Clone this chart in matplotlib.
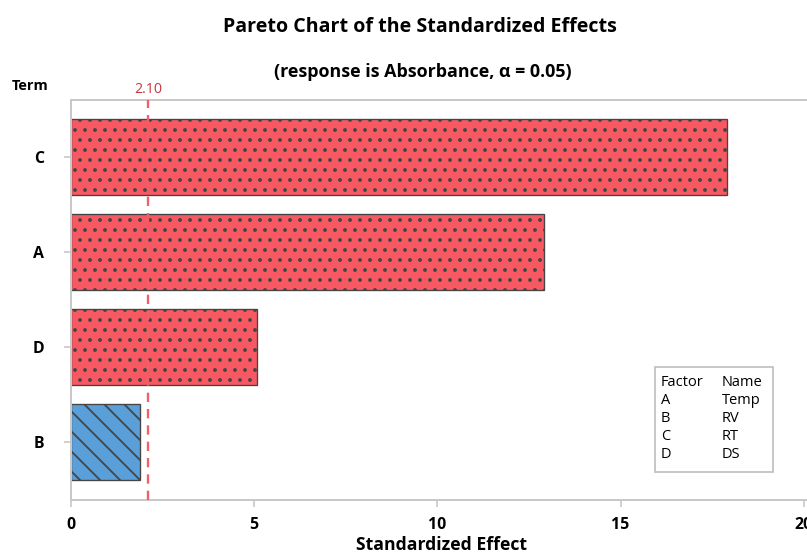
import matplotlib
matplotlib.use("Agg")
import matplotlib.pyplot as plt
from matplotlib.patches import FancyBboxPatch

plt.rcParams['font.family'] = ['Open Sans', 'DejaVu Sans']
plt.rcParams['hatch.linewidth'] = 1.1

# standardized effects, bottom to top
terms = ['B', 'D', 'A', 'C']
effects = [1.89, 5.08, 12.9, 17.92]
significant = [False, True, True, True]
critical = 2.10

factors = ['A', 'B', 'C', 'D']
names = ['Temp', 'RV', 'RT', 'DS']

red = '#F85861'
blue = '#5B9FD8'
edge = '#454545'
spine_gray = '#C8C8C8'

fig = plt.figure(figsize=(807 / 120, 554 / 120), dpi=120)
ax = fig.add_axes([71 / 807, 54 / 554, 740 / 807, 400 / 554])

ypos = list(range(len(terms)))
for y, v, sig in zip(ypos, effects, significant):
    ax.barh(y, v, height=0.8, color=red if sig else blue,
            edgecolor=edge, linewidth=0.8,
            hatch='..' if sig else '\\\\')

ax.axvline(critical, color='#F0606A', linestyle=(0, (4, 3)), linewidth=1.4, zorder=3)
ax.text(critical, 3.63, f'{critical:.2f}', color='#C8343C', fontsize=8.5,
        ha='center', va='bottom')

ax.set_xlim(0, 20.2)
ax.set_ylim(-0.61, 3.6)
ax.set_yticks(ypos)
ax.set_yticklabels(terms, fontsize=9.5, fontweight='bold')
ax.set_xticks([0, 5, 10, 15, 20])
ax.set_xticklabels(['0', '5', '10', '15', '20'], fontsize=9.5, fontweight='bold')
ax.tick_params(axis='both', color=spine_gray, length=4, width=1)
ax.tick_params(axis='x', pad=6)
ax.tick_params(axis='y', pad=12)

for side in ['left', 'top', 'bottom']:
    ax.spines[side].set_color(spine_gray)
    ax.spines[side].set_linewidth(1.2)
ax.spines['right'].set_visible(False)

fig.text(442 / 807, 1 - 545 / 554, 'Standardized Effect', ha='center', va='center',
         fontsize=10.6, fontweight='bold')
fig.text(420 / 807, 1 - 27 / 554, 'Pareto Chart of the Standardized Effects',
         ha='center', va='center', fontsize=11.8, fontweight='bold')
fig.text(423 / 807, 1 - 72 / 554, '(response is Absorbance, α = 0.05)',
         ha='center', va='center', fontsize=10.7, fontweight='bold')
fig.text(12 / 807, 1 - 86 / 554, 'Term', ha='left', va='center',
         fontsize=8.7, fontweight='bold')

# factor name table
box = FancyBboxPatch((655 / 807, 1 - 472 / 554), 118 / 807, 105 / 554,
                     boxstyle='square,pad=0', transform=fig.transFigure,
                     facecolor='white', edgecolor='#BDBDBD', linewidth=1)
fig.patches.append(box)
rows = [('Factor', 'Name')] + list(zip(factors, names))
for i, (f, n) in enumerate(rows):
    yy = 1 - (383 + 18 * i) / 554
    fig.text(661 / 807, yy, f, fontsize=8.8, va='center', ha='left')
    fig.text(722 / 807, yy, n, fontsize=8.8, va='center', ha='left')

fig.savefig('out.png', dpi=120)
